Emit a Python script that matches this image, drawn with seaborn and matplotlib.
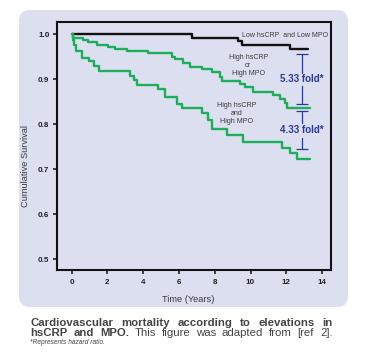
import numpy as np
import pandas as pd
import matplotlib
matplotlib.use("Agg")
import matplotlib.pyplot as plt
import seaborn as sns
from matplotlib.patches import FancyBboxPatch

# ---------------- data ----------------
low_t = [0, 6.72, 9.3, 9.5, 12.2, 13.2]
low_s = [1.0, 0.991, 0.984, 0.977, 0.966, 0.966]

either_t = [0, 0.09, 0.65, 0.93, 1.40, 2.05, 2.42, 3.08, 4.28, 5.59, 5.78, 6.24,
            6.62, 7.27, 7.83, 8.29, 8.39, 9.42, 9.69, 10.16, 11.28, 11.65, 11.93,
            12.02, 13.33]
either_s = [1.0, 0.992, 0.987, 0.983, 0.977, 0.972, 0.968, 0.963, 0.958, 0.950,
            0.944, 0.935, 0.927, 0.923, 0.916, 0.905, 0.897, 0.890, 0.883, 0.872,
            0.864, 0.857, 0.846, 0.837, 0.837]

both_t = [0, 0.05, 0.12, 0.22, 0.56, 0.98, 1.26, 1.54, 3.26, 3.48, 3.67, 4.85,
          5.22, 5.87, 6.15, 7.27, 7.64, 7.83, 8.67, 9.60, 11.74, 12.20, 12.58, 13.33]
both_s = [1.0, 0.988, 0.975, 0.962, 0.948, 0.941, 0.930, 0.918, 0.907, 0.898,
          0.887, 0.879, 0.861, 0.844, 0.835, 0.824, 0.809, 0.790, 0.776, 0.761,
          0.746, 0.735, 0.722, 0.722]

groups = ["low", "either", "both"]
group_labels = ["Low hsCRP  and Low MPO", "High hsCRP\nor\nHigh MPO", "High hsCRP\nand\nHigh MPO"]

# hazard ratio brackets
hr_labels = ["5.33 fold*", "4.33 fold*"]
hr_top = [0.957, 0.829]
hr_bottom = [0.844, 0.745]
hr_gap = [(0.913, 0.884), (0.802, 0.770)]
hr_text_y = [0.900, 0.786]
hr_x = 12.86

x_ticks = [0, 2, 4, 6, 8, 10, 12, 14]
y_ticks = [0.5, 0.6, 0.7, 0.8, 0.9, 1.0]

# ---------------- styling ----------------
W, H = 368, 360
PANEL = "#dcdff0"
GREEN = "#1cae5b"
BLUE = "#2b3990"
GREY = "#3a3a3a"

sns.set_style("ticks")
plt.rcParams["font.family"] = ["Liberation Sans", "DejaVu Sans"]

fig = plt.figure(figsize=(W / 100, H / 100), dpi=100)
fig.patch.set_facecolor("white")

panel = FancyBboxPatch((19 / W, 53 / H), 329 / W, 297 / H,
                       boxstyle="round,pad=0,rounding_size=0.03",
                       transform=fig.transFigure, facecolor=PANEL,
                       edgecolor="none", zorder=-10)
fig.patches.append(panel)

ax = fig.add_axes([57 / W, 90 / H, 274 / W, 248 / H])
ax.set_facecolor("none")
ax.set_zorder(5)

df = pd.concat([
    pd.DataFrame({"time": low_t, "surv": low_s, "group": "low"}),
    pd.DataFrame({"time": either_t, "surv": either_s, "group": "either"}),
    pd.DataFrame({"time": both_t, "surv": both_s, "group": "both"}),
])

sns.lineplot(data=df, x="time", y="surv", hue="group", hue_order=groups,
             palette={"low": "#111111", "either": GREEN, "both": GREEN},
             drawstyle="steps-post", estimator=None, sort=False,
             linewidth=1.7, legend=False, ax=ax)

# curve labels
ax.text(9.5, 0.998, group_labels[0], fontsize=5.0, color=GREY, ha="left", va="center")
ax.text(9.87, 0.930, group_labels[1], fontsize=5.1, color=GREY, ha="center",
        va="center", linespacing=1.15)
ax.text(9.23, 0.824, group_labels[2], fontsize=5.1, color=GREY, ha="center",
        va="center", linespacing=1.15)

# hazard ratio brackets
cap = 0.33
for lab, top, bot, (g1, g2), ty in zip(hr_labels, hr_top, hr_bottom, hr_gap, hr_text_y):
    ax.plot([hr_x, hr_x], [top, g1], color=BLUE, lw=0.9)
    ax.plot([hr_x, hr_x], [g2, bot], color=BLUE, lw=0.9)
    ax.hlines([top, bot], hr_x - cap, hr_x + cap, color=BLUE, lw=0.9)
    ax.text(hr_x, ty, lab, fontsize=7, fontweight="bold", color=BLUE,
            ha="center", va="center")

ax.set_xlim(-0.82, 14.5)
ax.set_ylim(0.476, 1.027)
ax.set_xticks(x_ticks)
ax.set_yticks(y_ticks)
ax.set_xticklabels([str(v) for v in x_ticks])
ax.set_yticklabels([f"{v:.1f}" for v in y_ticks])
ax.tick_params(direction="out", length=3, width=1.1, color="#111111",
               labelsize=5.8, labelcolor="#222222", pad=2.5)
for lab in ax.get_xticklabels() + ax.get_yticklabels():
    lab.set_fontweight("bold")
ax.tick_params(axis="x", pad=3.5)

for sp in ax.spines.values():
    sp.set_visible(True)
    sp.set_linewidth(1.5)
    sp.set_color("#111111")

ax.set_xlabel("Time (Years)", fontsize=6.7, color=GREY)
ax.set_ylabel("Cumulative Survival", fontsize=6.7, color=GREY)
ax.xaxis.set_label_coords(0.478, -0.10)
ax.yaxis.set_label_coords(-0.099, 0.42)

# ---------------- caption (justified lines) ----------------
renderer = fig.canvas.get_renderer()


def put_line(parts, x0, x1, y, size, color):
    ts = [fig.text(0, 1 - y / H, w, fontsize=size, fontweight=wt,
                   color=color, ha="left", va="baseline") for w, wt in parts]
    widths = [t.get_window_extent(renderer).width for t in ts]
    gap = ((x1 - x0) - sum(widths)) / (len(ts) - 1)
    x = x0
    for t, w in zip(ts, widths):
        t.set_x(x / W)
        x += w + gap


line1 = "Cardiovascular mortality according to elevations in".split()
put_line([(w, "bold") for w in line1], 30.7, 332.5, 326.3, 8.2, "#444444")
line2 = [(w, "bold") for w in "hsCRP and MPO.".split()] + \
        [(w, "normal") for w in "This figure was adapted from [ref 2].".split()]
put_line(line2, 30.7, 332.5, 336.5, 8.2, "#444444")
fig.text(30.5 / W, 1 - 344.5 / H, "*Represents hazard ratio.", fontsize=4.8,
         fontstyle="italic", color="#444444", ha="left", va="baseline")

fig.savefig("out.png", dpi=100)
